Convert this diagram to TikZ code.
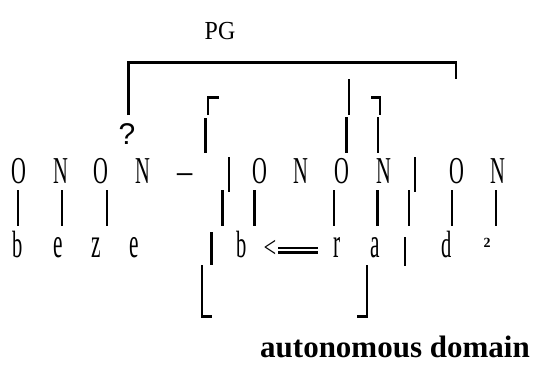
\documentclass[tikz,border=0pt]{standalone}
\usepackage{fontspec}
\setmainfont{Liberation Serif}
\newfontfamily\qfont{Liberation Sans}
% narrow (half-width) letters
\newcommand\nw[1]{\scalebox{0.54}[1]{#1}}
% narrow letters with a taller x-height
\newcommand\nx[1]{\scalebox{0.56}[1.12]{#1}}
\tikzset{
  glyph/.style={font=\fontsize{38}{38}\selectfont, inner sep=0pt, anchor=base},
  bar/.style={line width=2.2pt},
}
\begin{document}
\begin{tikzpicture}[x=1pt,y=-1pt]
\useasboundingbox (0,0) rectangle (543,364);

% header
\node[font=\fontsize{26}{26}\selectfont, inner sep=0pt, anchor=base] (pg) at (220,39.5) {\scalebox{0.92}[1]{PG}};

% top bracket and its hooks
\draw[bar] (128.5,115) -- (128.5,62.5) -- (456,62.5) -- (456,79);
\node[font=\qfont\fontsize{30}{30}\selectfont, inner sep=0pt, anchor=base] (q) at (127,144) {?};
\draw[bar] (208,115) -- (208,97.5) -- (219,97.5);
\draw[bar] (205.5,118) -- (205.5,153);
\draw[bar] (349,79) -- (349,115);
\draw[bar] (346.5,117) -- (346.5,153);
\draw[bar] (371,97.5) -- (380,97.5) -- (380,115);
\draw[bar] (378,117) -- (378,153);

% upper row of symbols
\node[glyph] (o1) at (18.5,183) {\nw{O}};
\node[glyph] (n1) at (60.5,183) {\nw{N}};
\node[glyph] (o2) at (101,183) {\nw{O}};
\node[glyph] (n2) at (142.5,183) {\nw{N}};
\node[glyph] (dash) at (185.5,183) {\scalebox{0.8}[1]{–}};
\draw[bar] (229,157) -- (229,192);
\node[glyph] (o3) at (260,183) {\nw{O}};
\node[glyph] (n3) at (300.5,183) {\nw{N}};
\node[glyph] (o4) at (342,183) {\nw{O}};
\node[glyph] (n4) at (383.5,183) {\nw{N}};
\draw[bar] (415,157) -- (415,192);
\node[glyph] (o5) at (456.5,183) {\nw{O}};
\node[glyph] (n5) at (498,183) {\nw{N}};

% links between the rows
\foreach \x in {18,62,107,222.5,254.5,334,377.5,409,452,496}
  \draw[bar] (\x,190) -- (\x,226);

% lower row of letters
\node[glyph] (b1) at (18,257) {\nw{b}};
\node[glyph] (e1) at (58,257) {\nx{e}};
\node[glyph] (z1) at (96,257) {\nx{z}};
\node[glyph] (e2) at (134,257) {\nx{e}};
\draw[bar] (211.5,232) -- (211.5,265);
\node[glyph] (b2) at (242,257) {\nw{b}};
\node[font=\fontsize{30}{30}\selectfont, inner sep=0pt, anchor=base] (lt) at (270,257) {\scalebox{0.75}[1]{<}};
\draw[line width=2.4pt] (278,248) -- (318,248);
\draw[line width=2.4pt] (278,252.3) -- (318,252.3);
\node[glyph] (r1) at (337.5,257) {\nx{r}};
\node[glyph] (a1) at (375.5,257) {\nx{a}};
\draw[bar] (405,237) -- (405,266);
\node[glyph] (d1) at (446.5,257) {\nw{d}};
\node[font=\bfseries\fontsize{14}{14}\selectfont, inner sep=0pt, anchor=base] (sq) at (487,247) {2};

% lower bracket
\draw[bar] (202,265) -- (202,316.5) -- (212,316.5);
\draw[bar] (367,265) -- (367,316.5) -- (357,316.5);

% caption
\node[font=\bfseries\fontsize{31}{31}\selectfont, inner sep=0pt, anchor=base west] (cap) at (260,357) {autonomous domain};
\end{tikzpicture}
\end{document}
